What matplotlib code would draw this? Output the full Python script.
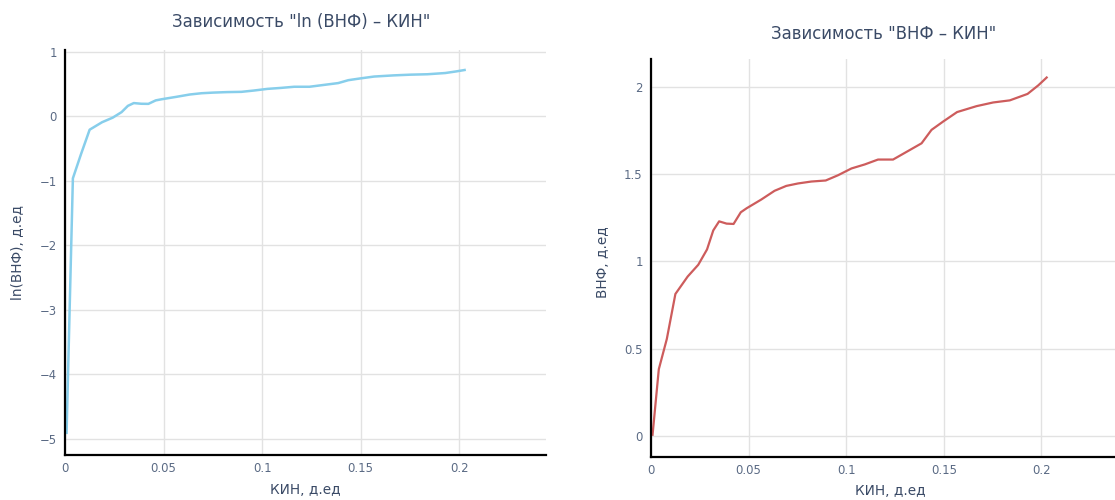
import numpy as np
import matplotlib
matplotlib.use("Agg")
import matplotlib.pyplot as plt

# ---- data ----
kin = [0.0008, 0.0040, 0.0081, 0.0125, 0.0188, 0.0242, 0.0287, 0.0319, 0.0349,
       0.0387, 0.0423, 0.0460, 0.0490, 0.0565, 0.0633, 0.0693, 0.0753, 0.0821,
       0.0895, 0.0958, 0.1027, 0.1095, 0.1163, 0.1240, 0.1386, 0.1437, 0.1497,
       0.1568, 0.1668, 0.1753, 0.1838, 0.1929, 0.1984, 0.2027]
vnf = [0.0074, 0.383, 0.556, 0.814, 0.914, 0.981, 1.069, 1.178, 1.230,
       1.217, 1.215, 1.282, 1.305, 1.355, 1.405, 1.433, 1.447, 1.458,
       1.464, 1.494, 1.533, 1.556, 1.584, 1.584, 1.677, 1.754, 1.802,
       1.856, 1.890, 1.911, 1.923, 1.960, 2.009, 2.054]
ln_vnf = np.log(vnf)

x_ticks = [0, 0.05, 0.1, 0.15, 0.2]
x_tick_labels = ["0", "0.05", "0.1", "0.15", "0.2"]
left_y_ticks = [1, 0, -1, -2, -3, -4, -5]
left_y_labels = ["1", "0", "−1", "−2", "−3", "−4", "−5"]
right_y_ticks = [0, 0.5, 1, 1.5, 2]
right_y_labels = ["0", "0.5", "1", "1.5", "2"]

title_left = 'Зависимость "ln (ВНФ) – КИН"'
title_right = 'Зависимость "ВНФ – КИН"'
xlabel = "КИН, д.ед"
ylabel_left = "ln(ВНФ), д.ед"
ylabel_right = "ВНФ, д.ед"

plt.rcParams['font.family'] = ['DejaVu Sans']
text_color = '#3a4a66'
tick_color = '#5a6a84'
grid_color = '#e2e2e2'

fig = plt.figure(figsize=(11.15, 5.0), dpi=100)
W, H = 1115, 500

def make_axes(x0, y0, x1, y1):
    return fig.add_axes([x0 / W, 1 - y1 / H, (x1 - x0) / W, (y1 - y0) / H])

def style(ax):
    for s in ['top', 'right']:
        ax.spines[s].set_visible(False)
    for s in ['left', 'bottom']:
        ax.spines[s].set_color('black')
        ax.spines[s].set_linewidth(1.6)
        ax.spines[s].set_zorder(5)
    ax.grid(True, color=grid_color, linewidth=1.0)
    ax.set_axisbelow(True)
    ax.tick_params(length=0, labelsize=8.4, labelcolor=tick_color)
    ax.tick_params(axis='y', pad=6)
    ax.tick_params(axis='x', pad=5)

# left chart
ax1 = make_axes(65, 50, 546, 455)
ax1.plot(kin, ln_vnf, color='#87CEEB', linewidth=1.8, solid_joinstyle='round')
ax1.set_xlim(0, 0.244)
ax1.set_ylim(-5.25, 1.03)
ax1.set_xticks(x_ticks)
ax1.set_xticklabels(x_tick_labels)
ax1.set_yticks(left_y_ticks)
ax1.set_yticklabels(left_y_labels)
style(ax1)

# right chart
ax2 = make_axes(651, 59, 1115, 457)
ax2.plot(kin, vnf, color='#CD5C5C', linewidth=1.6, solid_joinstyle='round')
ax2.set_xlim(0, 0.2377)
ax2.set_ylim(-0.12, 2.16)
ax2.set_xticks(x_ticks)
ax2.set_xticklabels(x_tick_labels)
ax2.set_yticks(right_y_ticks)
ax2.set_yticklabels(right_y_labels)
style(ax2)

# titles and axis labels
fig.text(301 / W, 1 - 22 / H, title_left, ha='center', va='center',
         fontsize=11.9, color=text_color)
fig.text(884 / W, 1 - 34 / H, title_right, ha='center', va='center',
         fontsize=11.9, color=text_color)
fig.text(305 / W, 1 - 490 / H, xlabel, ha='center', va='center',
         fontsize=9.8, color=text_color)
fig.text(890 / W, 1 - 491 / H, xlabel, ha='center', va='center',
         fontsize=9.8, color=text_color)
fig.text(18 / W, 1 - 252 / H, ylabel_left, ha='center', va='center',
         rotation=90, fontsize=9.8, color=text_color)
fig.text(603 / W, 1 - 262 / H, ylabel_right, ha='center', va='center',
         rotation=90, fontsize=9.8, color=text_color)

fig.savefig("out.png", dpi=100, facecolor='white')
